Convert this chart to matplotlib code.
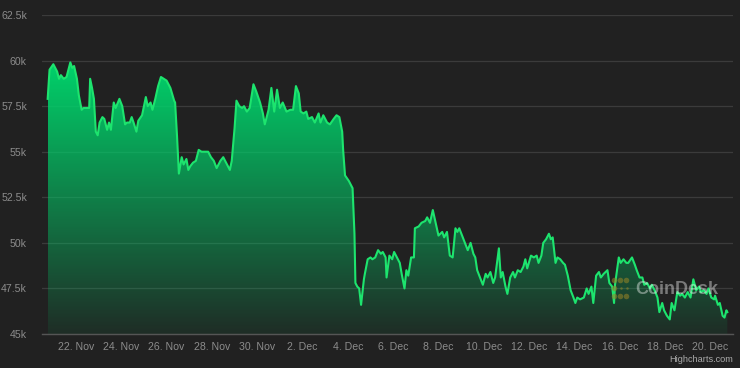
import numpy as np
import matplotlib
matplotlib.use("Agg")
import matplotlib.pyplot as plt
from matplotlib.lines import Line2D

plt.rcParams['font.family'] = ['Liberation Sans', 'DejaVu Sans']

# ---- data: hours since 22 Nov 00:00, BTC price in thousands USD ----
hours = [
    -30, -28, -24, -20, -18, -16, -13, -10, -6, -4, -2, 1, 3, 6, 8, 14, 15, 17, 19, 21,
    23, 25, 28, 30, 33, 35, 37, 40, 42, 46, 49, 52, 54, 57, 59, 61, 64, 66, 70, 74,
    76, 79, 81, 84, 87, 90, 93, 96, 100, 104, 105, 107, 109, 112, 114, 117, 119,
    121, 124, 127, 130, 133, 137, 140, 143, 146, 149, 153, 156, 159, 163, 165, 168, 170, 173, 176, 178,
    181, 184, 188, 191, 195, 198, 200, 204, 207, 210, 213, 216, 219, 223, 227, 230, 233, 236, 238, 241,
    244, 246, 250, 253, 257, 259, 262, 266, 269, 273, 276, 279, 282,
    283, 285, 289, 291, 293, 295, 296, 298, 300, 302, 305, 306, 309, 312, 314, 317, 320, 323, 325, 328,
    329, 332, 335, 337, 340, 343, 345, 348, 350, 352, 355, 358, 359, 363, 366, 370, 372, 375, 378, 381,
    384, 388, 390, 393, 396, 399, 402, 404, 406, 409, 412, 415, 418, 421, 423, 425, 428, 431,
    434, 436, 439, 442, 444, 448, 450, 452, 455, 457, 460, 463, 465, 468, 471, 474, 476, 478, 482, 485,
    488, 490, 493, 495, 498, 501, 503, 505, 508, 510, 513, 516, 518, 521, 524, 527, 529, 531, 534, 538,
    541, 543, 546, 548, 551, 554, 556, 559, 563, 565, 568, 570, 571,
    575, 577, 580, 583, 585, 589, 592, 594, 597, 600, 602, 605, 608, 610, 613, 616, 618, 621, 623, 626,
    629, 631, 634, 637, 640, 642, 645, 648, 651, 654, 657, 660, 662, 665, 668, 670, 673, 676, 677, 680,
    682, 685, 687, 689, 690,
]
price_k = [
    57.9, 59.5, 59.8, 59.4, 59.0, 59.2, 59.0, 59.1, 59.9, 59.6, 59.7, 59.0, 58.1, 57.3, 57.4, 57.4, 59.0, 58.5, 57.9, 56.1,
    55.9, 56.6, 56.9, 56.8, 56.2, 56.6, 56.2, 57.7, 57.4, 57.9, 57.5, 56.5, 56.6, 56.6, 56.9, 56.6, 56.1, 56.7, 57.0, 58.0,
    57.5, 57.7, 57.3, 57.9, 58.6, 59.1, 59.0, 58.9, 58.5, 57.8, 57.7, 55.9, 53.8, 54.7, 54.3, 54.6, 54.0,
    54.2, 54.4, 54.5, 55.1, 55.0, 55.0, 55.0, 54.7, 54.5, 54.1, 54.5, 54.7, 54.4, 54.0, 54.5, 56.3, 57.8, 57.5, 57.4, 57.5,
    57.2, 57.4, 58.7, 58.3, 57.7, 57.1, 56.5, 57.3, 58.5, 57.2, 58.4, 57.4, 57.7, 57.2, 57.3, 57.3, 58.6, 58.2, 57.2, 57.1,
    57.2, 56.8, 56.9, 56.6, 57.1, 56.6, 57.0, 56.6, 56.5, 56.8, 57.0, 56.9, 56.1,
    55.1, 53.7, 53.4, 53.2, 53.0, 50.5, 47.8, 47.6, 47.5, 46.6, 48.0, 48.3, 49.1, 49.2, 49.1, 49.2, 49.6, 49.4, 49.5, 49.2,
    48.1, 49.3, 49.1, 49.5, 49.2, 48.9, 48.3, 47.5, 48.5, 48.2, 49.2, 49.2, 50.8, 50.9, 51.1, 51.2, 51.4, 51.1, 51.8, 51.1,
    50.4, 50.6, 50.3, 50.6, 49.3, 49.2, 50.8, 50.6, 50.8, 50.4, 50.0, 49.6, 50.0, 49.4, 49.2, 48.5, 48.1, 47.7,
    48.3, 48.1, 48.4, 47.8, 48.1, 49.7, 48.1, 48.4, 47.6, 47.2, 48.1, 48.4, 48.1, 48.5, 48.4, 48.7, 49.1, 48.6, 49.3, 49.2,
    49.3, 48.9, 49.3, 50.0, 50.2, 50.5, 50.2, 50.3, 48.9, 49.2, 49.1, 48.9, 48.8, 48.2, 47.4, 47.0, 46.7, 47.0, 46.9, 47.0,
    47.5, 47.2, 47.6, 46.7, 48.2, 48.4, 48.1, 48.3, 48.5, 47.8, 47.6, 46.7, 47.7,
    49.2, 48.9, 49.1, 48.9, 48.9, 49.2, 48.8, 48.5, 48.1, 48.1, 47.7, 47.8, 47.5, 47.7, 47.4, 47.0, 46.2, 46.7, 46.3, 46.0,
    45.8, 46.7, 46.3, 47.3, 47.1, 47.2, 47.0, 47.3, 47.0, 48.0, 47.4, 47.6, 47.3, 47.4, 47.2, 47.5, 47.0, 46.9, 47.1, 46.6,
    46.7, 46.0, 45.9, 46.3, 46.2,
]

x_tick_hours = [0, 48, 96, 144, 192, 240, 288, 336, 384, 432, 480, 528, 576, 624, 672]
x_tick_labels = ["22. Nov", "24. Nov", "26. Nov", "28. Nov", "30. Nov", "2. Dec", "4. Dec",
                 "6. Dec", "8. Dec", "10. Dec", "12. Dec", "14. Dec", "16. Dec", "18. Dec", "20. Dec"]
y_ticks = [45000, 47500, 50000, 52500, 55000, 57500, 60000, 62500]
y_tick_labels = ["45k", "47.5k", "50k", "52.5k", "55k", "57.5k", "60k", "62.5k"]

# ---- style ----
BG = "#212121"
GRID = "#3b3b3b"
AXIS = "#555555"
LABEL = "#8c8c8c"
LINE = "#1de46e"
FILL_RGB = (0.0, 0.83, 0.42)

W, H = 740, 368
fig = plt.figure(figsize=(W / 100, H / 100), dpi=100, facecolor=BG)
ax = fig.add_axes([42 / W, (H - 334) / H, (733 - 42) / W, (334 - 15) / H])
ax.set_facecolor(BG)

x = np.array(hours, dtype=float)
y = np.array(price_k) * 1000.0
ymin, ymax = 45000, 62500

# gradient area
poly = ax.fill_between(x, y, ymin, facecolor="none", edgecolor="none")
n = 256
alpha = np.linspace(1.0, 0.07, n)
grad = np.zeros((n, 1, 4))
grad[:, 0, 0] = FILL_RGB[0]
grad[:, 0, 1] = FILL_RGB[1]
grad[:, 0, 2] = FILL_RGB[2]
grad[:, 0, 3] = alpha
im = ax.imshow(grad, extent=[x.min(), x.max(), ymin, y.max()], aspect="auto",
               origin="upper", zorder=1, interpolation="bilinear")
im.set_clip_path(poly.get_paths()[0], transform=ax.transData)

ax.plot(x, y, color=LINE, lw=1.5, zorder=3, solid_joinstyle="round")

ax.set_xlim(-36, 696)
ax.set_ylim(ymin, ymax)
ax.set_xticks(x_tick_hours)
ax.set_xticklabels(x_tick_labels)
ax.set_yticks(y_ticks)
ax.set_yticklabels(y_tick_labels)
ax.tick_params(axis="x", length=0, pad=5.5, labelsize=7.6, labelcolor=LABEL)
ax.tick_params(axis="y", length=0, pad=10.8, labelsize=7.6, labelcolor=LABEL)
for lab in ax.get_yticklabels():
    lab.set_horizontalalignment("right")

ax.grid(axis="y", color=GRID, lw=0.9, zorder=0.5)
ax.set_axisbelow(True)
for s in ["top", "right", "left"]:
    ax.spines[s].set_visible(False)
ax.spines["bottom"].set_color(AXIS)
ax.spines["bottom"].set_linewidth(1.0)
ax.spines["bottom"].set_zorder(4)

# watermark logo dots + text
dot_color = (0.6, 0.52, 0.15, 0.55)
dots = [(614, 280), (620, 280), (626, 280), (614, 288), (614, 296), (620, 296), (626, 296)]
faint = [(621, 288), (627, 288)]
for (px, py) in dots:
    fig.add_artist(Line2D([px / W], [1 - py / H], marker="o", markersize=4.0, linestyle="none",
                          color=dot_color, markeredgewidth=0, transform=fig.transFigure, zorder=5))
for (px, py) in faint:
    fig.add_artist(Line2D([px / W], [1 - py / H], marker="o", markersize=1.8, linestyle="none",
                          color=dot_color, markeredgewidth=0, transform=fig.transFigure, zorder=5))
fig.text(635 / W, 1 - 289 / H, "CoinDesk", ha="left", va="center", fontsize=13,
         fontweight="bold", color=(1, 1, 1, 0.4), zorder=6)

fig.text(733 / W, 1 - 360 / H, "Highcharts.com", ha="right", va="center", fontsize=6.6,
         color="#aaaaaa")

fig.savefig("out.png", dpi=100, facecolor=BG)
